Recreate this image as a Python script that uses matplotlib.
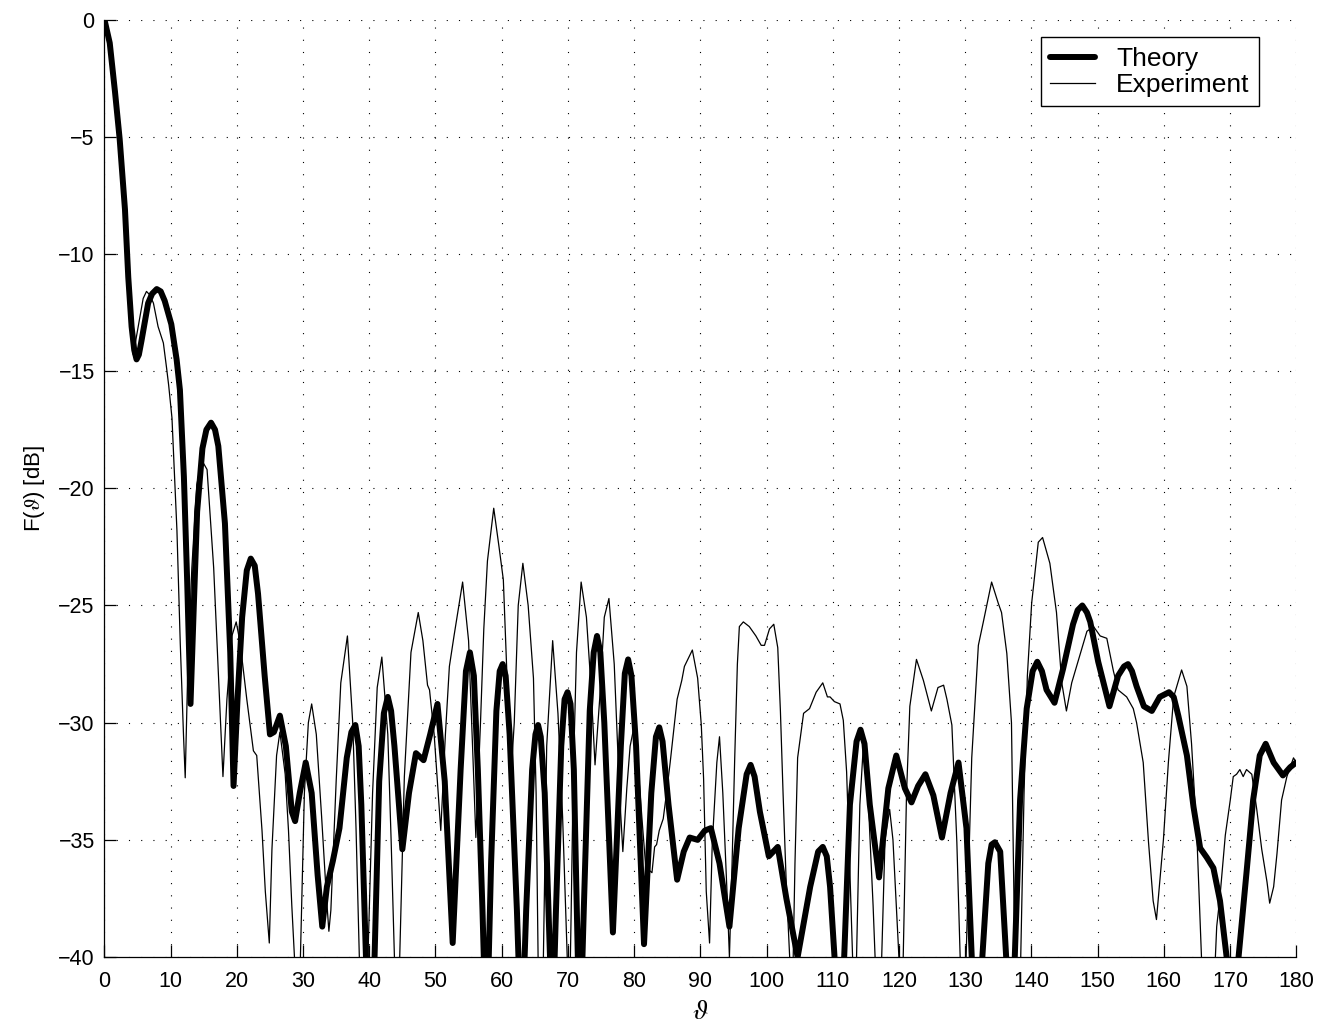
# plot.py
# 방사 패턴: 이론값 vs 측정값 (F(θ) [dB])

import matplotlib
matplotlib.use('Agg')
import matplotlib.pyplot as plt

# 이론값 (굵은 선)
theory_deg = [
    0, 0.8, 1.6, 2.3, 3.1, 3.6, 4.1, 4.5, 4.85, 5.2, 5.6, 6.6, 7.2, 7.9, 8.5,
    9.1, 10.1, 10.9, 11.4, 12.0, 12.5, 13.0, 13.5, 14.0, 14.8, 15.4, 16.1, 16.7,
    17.2, 18.2, 19.0, 19.5, 20.1, 20.8, 21.5, 22.1, 22.7, 23.2, 24.2, 25.0, 25.6,
    26.5, 27.4, 28.3, 28.8, 29.5, 30.4, 31.3, 32.2, 32.9, 33.6, 34.5, 35.5, 36.6,
    37.3, 37.9, 38.4, 38.8, 39.5, 39.9, 40.4, 40.8, 41.5, 42.2, 42.8, 43.3, 43.8,
    45.0, 46.0, 47.05, 48.2, 49.2, 50.3, 51.4, 52.6, 53.8, 54.6, 55.2, 55.8, 56.4,
    57.1, 57.7, 58.4, 59.2, 59.7, 60.15, 60.6, 61.2, 62.3, 63.0, 63.7, 64.6, 65.1,
    65.5, 65.9, 66.5, 67.3, 67.6, 68.2, 69.0, 69.5, 69.95, 70.4, 70.9, 71.5, 71.8,
    72.4, 73.3, 73.9, 74.4, 74.9, 75.5, 76.8, 78.0, 78.6, 79.1, 79.6, 80.3, 81.5,
    82.6, 83.3, 83.8, 84.3, 85.2, 86.5, 87.5, 88.4, 89.6, 90.7, 91.6, 92.9, 94.4,
    95.8, 97.0, 97.6, 98.2, 99.0, 100.35, 101.7, 103.0, 104.7, 106.6, 107.8,
    108.5, 109.1, 109.6, 110.5, 111.0, 111.6, 112.6, 113.6, 114.2, 114.8, 115.6,
    117.0, 118.4, 119.6, 120.9, 121.9, 122.9, 124.0, 125.2, 126.5, 127.8, 129.0,
    130.2, 131.0, 131.8, 132.6, 133.5, 134.0, 134.5, 135.3, 136.2, 136.9, 137.5,
    138.3, 139.3, 140.2, 140.9, 141.6, 142.3, 143.5, 144.8, 146.3, 147.0, 147.7,
    148.4, 148.9, 150.1, 151.8, 153.1, 154.0, 154.6, 155.2, 155.9, 157.0, 158.2,
    159.4, 160.8, 161.5, 162.2, 163.5, 164.5, 165.5, 166.5, 167.5, 168.5, 169.5,
    170.3, 171.3, 172.5, 173.5, 174.5, 175.4, 176.6, 178.0, 179.1, 180.0,
]
theory_db = [
    0, -1.0, -3.1, -5.1, -8.1, -11.0, -13.1, -14.1, -14.5, -14.3, -13.7, -12.1,
    -11.7, -11.5, -11.6, -12.0, -13.0, -14.5, -15.8, -19.5, -24.0, -29.2, -25.0,
    -21.0, -18.3, -17.5, -17.2, -17.5, -18.2, -21.5, -27.0, -32.7, -29.0, -25.5,
    -23.5, -23.0, -23.3, -24.5, -28.0, -30.5, -30.4, -29.7, -31.0, -33.8, -34.2,
    -33.0, -31.7, -33.0, -36.5, -38.7, -37.0, -35.9, -34.5, -31.5, -30.4, -30.1,
    -31.0, -33.5, -40.0, -43.0, -43.0, -40.0, -32.5, -29.6, -28.9, -29.5, -31.0,
    -35.4, -33.0, -31.3, -31.6, -30.5, -29.2, -32.5, -39.4, -32.0, -27.8, -27.0,
    -28.0, -32.0, -38.0, -44.0, -36.0, -29.5, -27.8, -27.5, -28.0, -30.5, -38.0,
    -44.0, -38.0, -32.0, -30.5, -30.1, -30.6, -33.0, -40.0, -44.0, -38.0, -31.0,
    -29.0, -28.7, -29.2, -32.0, -40.0, -44.0, -38.0, -29.5, -27.0, -26.3, -27.0,
    -30.0, -38.95, -31.0, -27.9, -27.3, -28.0, -31.0, -39.45, -33.0, -30.6, -30.2,
    -30.8, -33.5, -36.7, -35.5, -34.9, -35.0, -34.6, -34.5, -36.0, -38.7, -34.5,
    -32.2, -31.8, -32.3, -33.8, -35.7, -35.3, -37.5, -40.0, -37.0, -35.5, -35.3,
    -35.7, -37.0, -41.0, -45.0, -41.0, -33.5, -30.8, -30.3, -30.9, -33.5, -36.6,
    -32.8, -31.4, -32.8, -33.4, -32.7, -32.2, -33.1, -34.9, -33.0, -31.7, -34.5,
    -40.0, -45.0, -40.0, -36.0, -35.2, -35.1, -35.5, -40.0, -46.0, -40.0, -33.3,
    -29.4, -27.8, -27.4, -27.8, -28.6, -29.15, -27.7, -25.8, -25.2, -25.0, -25.3,
    -25.7, -27.4, -29.3, -28.0, -27.6, -27.5, -27.8, -28.45, -29.3, -29.5, -28.9,
    -28.7, -28.9, -29.7, -31.4, -33.6, -35.35, -35.75, -36.2, -37.6, -40.0, -44.0,
    -40.0, -36.4, -33.3, -31.4, -30.9, -31.7, -32.25, -31.9, -31.7,
]

# 측정값 (가는 선)
experiment_deg = [
    0, 0.8, 1.6, 2.3, 3.1, 3.6, 4.0, 4.35, 5.1, 5.85, 6.35, 6.85, 7.4, 8.1, 8.9,
    9.4, 9.7, 10.2, 10.95, 11.45, 11.95, 12.2, 12.55, 13.2, 13.95, 14.7, 15.5,
    16.5, 17.25, 17.9, 18.5, 19.25, 19.9, 20.5, 21.5, 22.5, 23.0, 23.8, 24.3, 24.9,
    25.3, 26.0, 26.5, 27.3, 27.8, 28.3, 28.7, 29.1, 29.6, 30.2, 30.8, 31.3, 32.0,
    32.8, 33.5, 33.9, 34.2, 35.0, 35.7, 36.7, 37.5, 38.0, 38.5, 39.2, 39.8, 40.5,
    41.2, 41.9, 42.8, 43.3, 43.8, 44.2, 44.6, 45.3, 46.3, 47.4, 48.1, 48.8, 49.1,
    49.8, 50.8, 51.5, 52.1, 52.8, 54.1, 55.0, 55.6, 56.1, 56.8, 57.3, 57.85, 58.8,
    59.6, 60.25, 60.8, 61.4, 61.9, 62.5, 63.2, 64.0, 64.8, 65.2, 65.5, 65.9, 66.3,
    66.8, 67.7, 68.5, 69.2, 69.9, 70.2, 70.5, 70.8, 71.3, 72.0, 72.8, 73.5, 74.1,
    74.8, 75.5, 76.2, 77.0, 77.8, 78.3, 78.9, 79.4, 79.9, 80.5, 81.3, 82.0, 82.3,
    82.7, 83.1, 83.4, 83.8, 84.4, 84.9, 85.45, 86.0, 86.5, 87.2, 87.6, 88.8, 89.6,
    90.15, 90.5, 90.9, 91.4, 91.8, 92.5, 92.9, 93.4, 94.0, 94.4, 94.8, 95.2, 95.6,
    95.9, 96.5, 97.4, 98.4, 99.2, 99.7, 100.45, 101.1, 101.7, 102.1, 102.5, 103.0,
    103.5, 103.9, 104.3, 104.7, 105.6, 106.5, 107.5, 108.5, 109.2, 109.6, 110.25,
    111.1, 111.6, 112.1, 112.6, 113.0, 113.3, 113.6, 114.1, 114.6, 115.4, 116.1,
    116.4, 116.9, 117.4, 117.9, 118.6, 119.1, 119.6, 120.0, 120.3, 120.65, 121.15,
    121.65, 122.65, 123.7, 124.9, 125.9, 126.75, 127.25, 128.0, 128.75, 129.25,
    129.7, 130.15, 131.0, 132.0, 132.75, 134.0, 135.0, 135.5, 136.3, 137.0, 137.5,
    138.0, 138.4, 138.9, 139.4, 140.05, 141.05, 141.7, 142.8, 143.8, 144.6, 145.3,
    146.1, 147.4, 148.4, 149.4, 150.4, 151.4, 152.4, 153.1, 154.4, 155.4, 155.9,
    156.9, 157.7, 158.4, 158.9, 159.3, 159.95, 160.7, 161.5, 162.7, 163.5, 164.2,
    165.0, 165.7, 166.5, 167.4, 167.8, 168.0, 168.5, 169.3, 170.05, 170.5, 171.0,
    171.5, 172.0, 172.5, 173.3, 174.05, 174.8, 175.6, 176.0, 176.6, 177.1, 177.8,
    178.6, 179.1, 179.6, 180.0,
]
experiment_db = [
    0, -1.0, -3.1, -5.2, -8.3, -11.2, -13.3, -14.3, -13.1, -11.9, -11.6, -11.75,
    -12.1, -13.1, -13.8, -14.9, -15.6, -17.0, -21.8, -26.6, -30.6, -32.35, -28.2,
    -23.4, -19.85, -18.8, -19.2, -23.4, -28.2, -32.3, -29.0, -26.3, -25.7, -26.6,
    -29.0, -31.2, -31.4, -34.6, -37.2, -39.4, -35.4, -31.4, -30.4, -32.2, -34.6,
    -37.8, -40.0, -44.0, -40.0, -33.0, -30.0, -29.2, -30.5, -34.0, -37.3, -38.9,
    -38.0, -32.5, -28.3, -26.3, -30.0, -34.5, -40.0, -45.0, -40.0, -33.0, -28.5,
    -27.2, -30.5, -35.0, -40.0, -44.0, -40.0, -32.3, -27.0, -25.3, -26.5, -28.4,
    -28.6, -30.5, -34.6, -30.5, -27.6, -26.3, -24.0, -26.5, -31.0, -34.9, -30.0,
    -26.0, -23.1, -20.85, -22.5, -23.9, -28.0, -32.3, -30.0, -25.0, -23.2, -25.0,
    -28.1, -33.0, -40.0, -44.0, -40.0, -31.0, -26.5, -29.6, -34.0, -40.0, -43.0,
    -38.0, -32.4, -27.0, -24.0, -25.5, -28.5, -31.8, -29.0, -25.5, -24.7, -27.5,
    -33.0, -35.5, -32.8, -31.0, -30.3, -31.5, -34.5, -37.0, -36.3, -36.4, -35.3,
    -35.2, -34.6, -34.1, -33.0, -31.7, -30.3, -29.0, -28.2, -27.6, -26.9, -28.1,
    -30.1, -32.4, -37.2, -39.4, -35.2, -31.7, -30.6, -33.0, -37.0, -40.0, -36.0,
    -31.5, -27.5, -25.9, -25.7, -25.9, -26.3, -26.7, -26.7, -26.0, -25.8, -26.8,
    -29.5, -33.0, -37.0, -40.0, -42.0, -36.0, -31.5, -29.6, -29.4, -28.7, -28.3,
    -28.9, -28.9, -29.1, -29.2, -29.9, -32.1, -36.4, -40.0, -43.0, -40.0, -33.5,
    -31.1, -33.5, -37.8, -40.0, -43.0, -40.0, -35.0, -33.7, -35.0, -37.8, -40.0,
    -43.0, -40.0, -33.0, -29.3, -27.3, -28.2, -29.5, -28.5, -28.4, -29.0, -30.1,
    -35.1, -40.0, -44.0, -40.0, -31.5, -26.7, -25.7, -24.0, -24.9, -25.3, -27.05,
    -30.0, -40.0, -44.0, -40.0, -33.0, -28.0, -24.9, -22.3, -22.1, -23.2, -25.3,
    -28.3, -29.5, -28.3, -27.05, -26.1, -25.9, -26.3, -26.4, -27.8, -28.6, -28.9,
    -29.4, -30.0, -31.7, -35.1, -37.6, -38.4, -37.1, -35.0, -31.7, -28.9, -27.75,
    -28.45, -30.9, -34.8, -40.0, -45.0, -45.0, -40.0, -38.7, -37.4, -34.8, -33.3,
    -32.3, -32.2, -32.0, -32.3, -32.0, -32.2, -33.7, -35.4, -36.8, -37.7, -37.0,
    -35.6, -33.3, -32.3, -31.9, -31.5, -31.7,
]

x_ticks = list(range(0, 181, 10))
y_ticks = list(range(-40, 1, 5))

plt.rcParams['font.family'] = ['Liberation Sans', 'DejaVu Sans']
plt.rcParams['mathtext.fontset'] = 'stix'

fig = plt.figure(figsize=(13.39, 10.28), dpi=100)
fig.patch.set_facecolor("#ffffff")
ax = fig.add_axes([0.078, 0.069, 0.890, 0.912])

ax.plot(theory_deg, theory_db, color="#000000", linewidth=4.3, label="Theory",
        solid_joinstyle="round", solid_capstyle="round")
ax.plot(experiment_deg, experiment_db, color="#000000", linewidth=0.9,
        label="Experiment")

ax.set_xlim(0, 180)
ax.set_ylim(-40, 0)
ax.set_xticks(x_ticks)
ax.set_yticks(y_ticks)

# MATLAB 스타일 점선 그리드
ax.grid(True, color="#000000", linestyle=(0, (1, 10)), linewidth=0.8)

for side in ["top", "right"]:
    ax.spines[side].set_visible(False)
for side in ["left", "bottom"]:
    ax.spines[side].set_linewidth(0.9)

ax.tick_params(axis="both", direction="in", length=8.5, width=0.9,
               labelsize=15.5)
ax.tick_params(axis="x", pad=10)
ax.tick_params(axis="y", pad=7)

ax.set_xlabel(r"$\vartheta$", fontsize=20, labelpad=5)
ax.set_ylabel(r"F($\vartheta$) [dB]", fontsize=16, labelpad=8)

leg = ax.legend(loc="upper right", bbox_to_anchor=(0.969, 0.981),
                borderaxespad=0, fontsize=19, fancybox=False, framealpha=1,
                edgecolor="#000000", handlelength=1.7, borderpad=0.36,
                labelspacing=0.08, handletextpad=0.8)
leg.get_frame().set_linewidth(1.0)

fig.savefig("out.png", dpi=100, facecolor="#ffffff")
plt.close(fig)
